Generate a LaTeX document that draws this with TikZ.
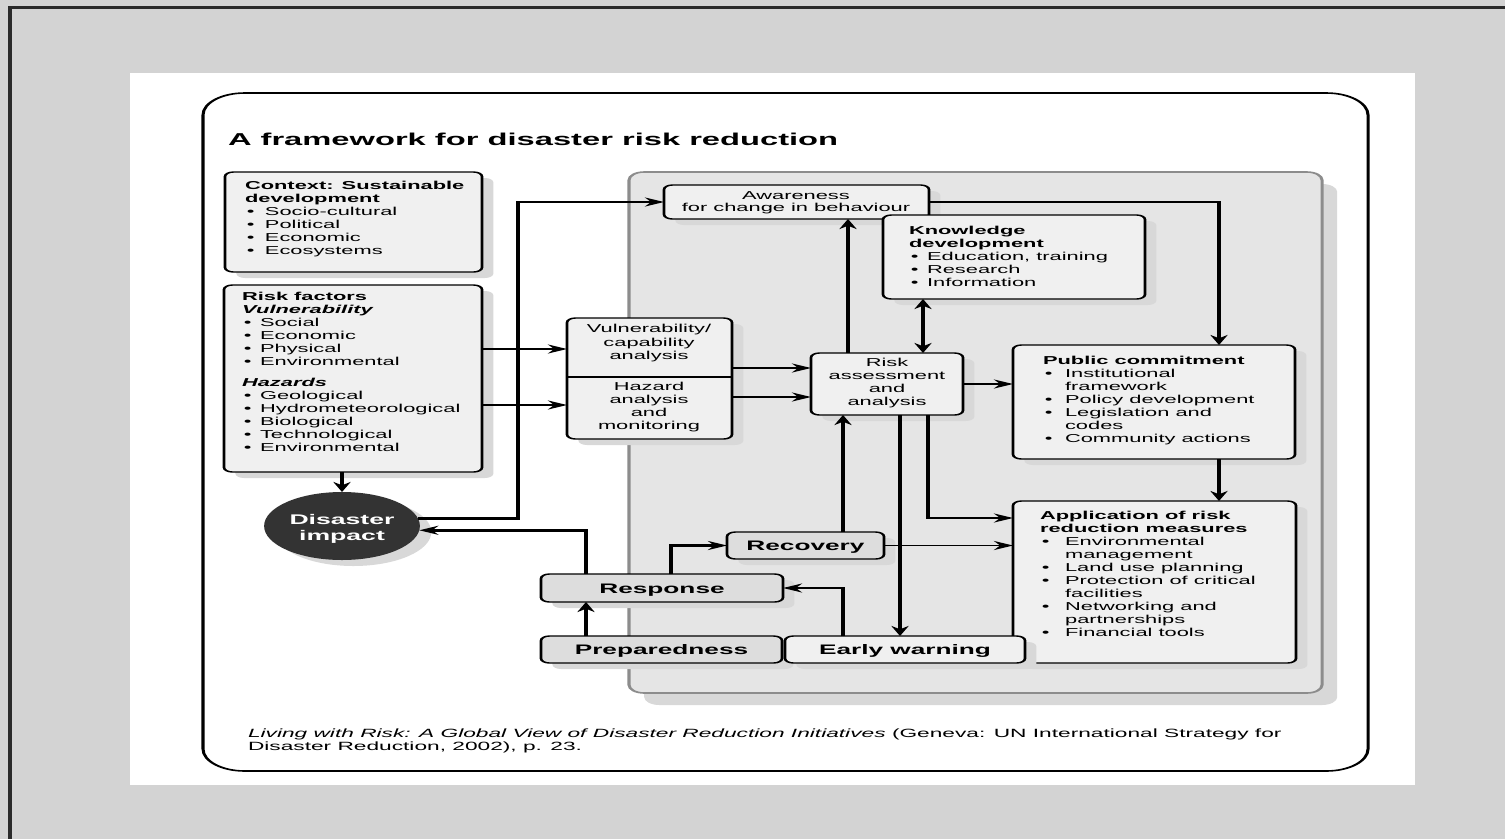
\documentclass[tikz,border=0pt]{standalone}
\usepackage{fontspec}
\setmainfont{Liberation Sans}
\usetikzlibrary{arrows.meta,fit,shapes.geometric}
\definecolor{bggray}{HTML}{D3D3D3}
\definecolor{edgedark}{HTML}{2A2A2A}
\definecolor{regionfill}{HTML}{E5E5E5}
\definecolor{regionline}{HTML}{8C8C8C}
\definecolor{boxfill}{HTML}{F0F0F0}
\definecolor{darkfill}{HTML}{DDDDDD}
\definecolor{shadowc}{HTML}{D8D8D8}
\definecolor{impactfill}{HTML}{333333}
\newcommand\bul[1][10pt]{\makebox[#1][l]{\hspace{1pt}\textbullet}}
\tikzset{
  every node/.style={inner sep=0pt, outer sep=0pt},
  boxshadow/.style={preaction={fill=shadowc, draw=none, transform canvas={xshift=6pt,yshift=-6pt}}},
  box/.style={draw=black, line width=1.4pt, fill=boxfill, rounded corners=4.5pt, boxshadow},
  softbox/.style={box, fill=darkfill},
  lbl/.style={anchor=center, font=\bfseries\fontsize{13.8}{16}\selectfont, text height=10pt, text depth=0pt},
  txt/.style={anchor=north west, align=left, font=\fontsize{11.5}{13}\selectfont},
  ctxt/.style={anchor=north, align=center, font=\fontsize{11.5}{13}\selectfont},
  conn/.style={line width=2.5pt, -{Stealth[length=10pt,width=9pt]}},
  thinconn/.style={conn, line width=1.8pt},
  dconn/.style={line width=2.5pt, {Stealth[length=10pt,width=9pt]}-{Stealth[length=10pt,width=9pt]}}
}
\begin{document}
\begin{tikzpicture}[x=1pt,y=-1pt]
\useasboundingbox (0,0) rectangle (1505,839);
\fill[bggray] (0,0) rectangle (1505,839);
\fill[edgedark] (8,6) rectangle (12,839);
\fill[edgedark] (8,6) rectangle (1505,8.5);
\fill[white] (130,73) rectangle (1415,785);
\begin{scope}[transform canvas={xscale=1.9}, x=0.526316pt]
% outer frame
\draw[line width=1.6pt, rounded corners=22pt] (203,93) rectangle (1368,771);
\node[anchor=base west, font=\bfseries\fontsize{17.2}{20}\selectfont] (title) at (228,145) {A framework for disaster risk reduction};
% grey region
\path[draw=regionline, line width=1.6pt, fill=regionfill, rounded corners=8pt,
  preaction={fill=shadowc, draw=none, transform canvas={xshift=8pt,yshift=-12pt}}] (629,172) rectangle (1322,693);
% boxes
\node[box, fit={(225,172)(482,272)}] (ctx) {};
\node[box, fit={(224,285)(482,472)}] (rf) {};
\node[ellipse, fill=impactfill, minimum width=82pt, minimum height=68pt, text=white, align=center,
  font=\bfseries\fontsize{14}{16}\selectfont,
  preaction={fill=shadowc, transform canvas={xshift=6pt,yshift=-6pt}}] (di) at (342,526) {\rule{0pt}{16pt}Disaster\\impact};
\node[box, fit={(567,318)(732,439)}] (vh) {};
\draw[line width=1.4pt] (vh.west |- 0,377) -- (vh.east |- 0,377);
\node[box, fit={(664,185)(929,219)}] (aw) {};
\node[box, fit={(883,215)(1145,299)}] (kd) {};
\node[box, fit={(811,353)(963,415)}] (ra) {};
\node[box, fit={(1013,345)(1295,459)}] (pc) {};
\node[box, fit={(1013,501)(1296,663)}] (ap) {};
\node[softbox, fit={(727,532)(884,559)}] (rec) {};
\node[softbox, fit={(541,574)(783,602)}] (resp) {};
\node[softbox, fit={(541,636)(782,663)}] (prep) {};
\node[box, fit={(785,636)(1025,663)}] (ew) {};
\node[lbl] (rectext) at (rec.center) {Recovery};
\node[lbl] (resptext) at (resp.center) {Response};
\node[lbl] (preptext) at (prep.center) {Preparedness};
\node[lbl] (ewtext) at (ew.center) {Early warning};
% texts
\node[txt] (ctxtext) at (245,181.5) {\textbf{Context: Sustainable}\\\textbf{development}\\\bul[10.5pt]Socio-cultural\\\bul[10.5pt]Political\\\bul[10.5pt]Economic\\\bul[10.5pt]Ecosystems};
\node[txt] (rftext) at (242,292.5) {\textbf{Risk factors}\\\textbf{\textit{Vulnerability}}\\\bul[9.5pt]Social\\\bul[9.5pt]Economic\\\bul[9.5pt]Physical\\\bul[9.5pt]Environmental\\[8pt]\textbf{\textit{Hazards}}\\\bul[9.5pt]Geological\\\bul[9.5pt]Hydrometeorological\\\bul[9.5pt]Biological\\\bul[9.5pt]Technological\\\bul[9.5pt]Environmental};
\node[txt] (kdtext) at (909,226.5) {\textbf{Knowledge}\\\textbf{development}\\\bul[9.5pt]Education, training\\\bul[9.5pt]Research\\\bul[9.5pt]Information};
\node[txt] (pctext) at (1043,356.5) {\textbf{Public commitment}\\\bul[11.6pt]Institutional\\\hspace*{11.6pt}framework\\\bul[11.6pt]Policy development\\\bul[11.6pt]Legislation and\\\hspace*{11.6pt}codes\\\bul[11.6pt]Community actions};
\node[txt] (aptext) at (1040,511.5) {\textbf{Application of risk}\\\textbf{reduction measures}\\\bul[13.2pt]Environmental\\\hspace*{13.2pt}management\\\bul[13.2pt]Land use planning\\\bul[13.2pt]Protection of critical\\\hspace*{13.2pt}facilities\\\bul[13.2pt]Networking and\\\hspace*{13.2pt}partnerships\\\bul[13.2pt]Financial tools};
\node[ctxt, font=\fontsize{11.5}{12}\selectfont] (awtext) at (796,191.5) {Awareness\\for change in behaviour};
\node[ctxt, font=\fontsize{11.5}{13.5}\selectfont] (vtext) at (649,324.5) {Vulnerability/\\capability\\analysis};
\node[ctxt] (htext) at (649,382.5) {Hazard\\analysis\\and\\monitoring};
\node[ctxt] (ratext) at (887,358.5) {Risk\\assessment\\and\\analysis};
\node[anchor=north west, align=left, font=\fontsize{11.95}{13}\selectfont] (src) at (248,729) {\textit{Living with Risk: A Global View of Disaster Reduction Initiatives} (Geneva: UN International Strategy for\\Disaster Reduction, 2002), p. 23.};
% connectors
\coordinate (b1) at (518,202);
\draw[conn] (rf.east |- 0,349) -- (vh.west |- 0,349);
\draw[conn] (rf.east |- 0,405) -- (vh.west |- 0,405);
\draw[conn] (vh.east |- 0,368) -- (ra.west |- 0,368);
\draw[conn] (vh.east |- 0,397) -- (ra.west |- 0,397);
\draw[conn] (rf.south -| di.north) -- (di.north);
\draw[conn] (di.11) -| (b1) -- (aw.west);
\draw[conn] (resp.north -| 586,0) |- (di.-6);
\draw[conn] (prep.north -| 586,0) -- (resp.south -| 586,0);
\draw[conn] (resp.north -| 671,0) |- (rec.west);
\draw[conn] (ew.north -| 843,0) |- (resp.east);
\draw[conn] (rec.north -| 843,0) -- (ra.south -| 843,0);
\draw[conn] (ra.south -| 900,0) -- (ew.north -| 900,0);
\draw[conn] (ra.south -| 928,0) |- (ap.west |- 0,518);
\draw[thinconn] (rec.east) -- (ap.west |- rec.east);
\draw[conn] (ra.east) -- (pc.west |- ra.east);
\draw[conn] (ra.north -| 848,0) -- (aw.south -| 848,0);
\draw[dconn] (kd.south -| 923,0) -- (ra.north -| 923,0);
\draw[conn] (aw.east) -| (pc.north -| 1219,0);
\draw[conn] (pc.south -| 1219,0) -- (ap.north -| 1219,0);
\end{scope}
\end{tikzpicture}
\end{document}
